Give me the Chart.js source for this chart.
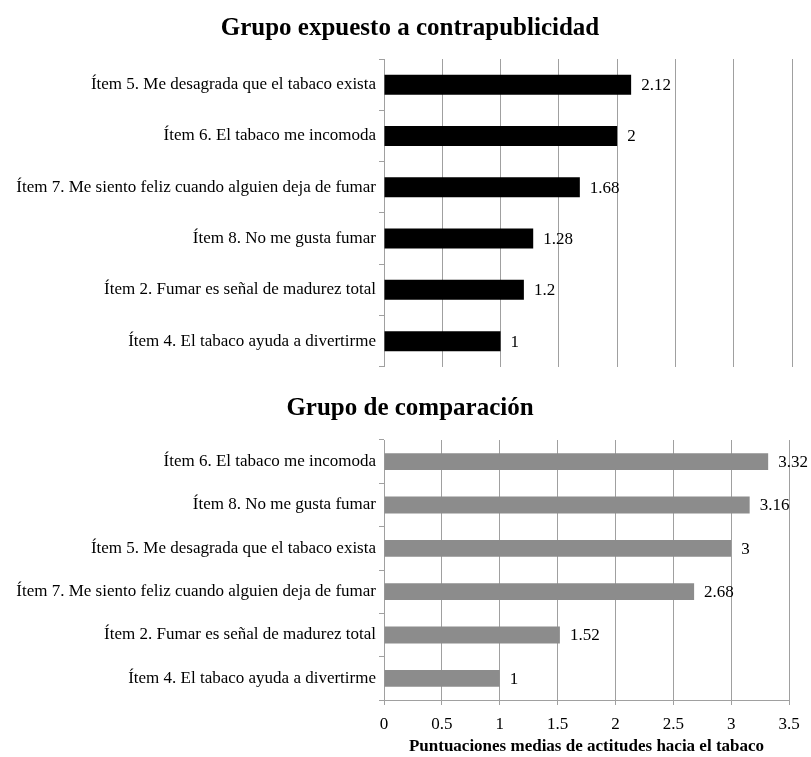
<!DOCTYPE html>
<html>
<head>
<meta charset="utf-8">
<script src="https://cdn.jsdelivr.net/npm/chart.js@4.4.1/dist/chart.umd.min.js"></script>
<style>
    body { margin: 0; background: #fff; }
    .wrap { position: absolute; left: 0; width: 811px; }
    #topWrap { top: 0; height: 380px; }
    #bottomWrap { top: 380px; height: 377px; }
    .title {
        position: absolute;
        left: 10px;
        width: 800px;
        text-align: center;
        font: bold 25px 'Liberation Serif', 'Times New Roman', serif;
        line-height: 30px;
        color: #000;
        z-index: 2;
    }
    #topTitle { top: 12px; }
    #bottomTitle { top: 392px; }
</style>
</head>
<body>
<div class="title" id="topTitle">Grupo expuesto a contrapublicidad</div>
<div class="title" id="bottomTitle">Grupo de comparación</div>
<div class="wrap" id="topWrap"><canvas id="topChart"></canvas></div>
<div class="wrap" id="bottomWrap"><canvas id="bottomChart"></canvas></div>
<script>
const topLabels = [
    "Ítem 5. Me desagrada que el tabaco exista",
    "Ítem 6. El tabaco me incomoda",
    "Ítem 7. Me siento feliz cuando alguien deja de fumar",
    "Ítem 8. No me gusta fumar",
    "Ítem 2. Fumar es señal de madurez total",
    "Ítem 4. El tabaco ayuda a divertirme",
];
const topValues = [2.12, 2, 1.68, 1.28, 1.2, 1];

const bottomLabels = [
    "Ítem 6. El tabaco me incomoda",
    "Ítem 8. No me gusta fumar",
    "Ítem 5. Me desagrada que el tabaco exista",
    "Ítem 7. Me siento feliz cuando alguien deja de fumar",
    "Ítem 2. Fumar es señal de madurez total",
    "Ítem 4. El tabaco ayuda a divertirme",
];
const bottomValues = [3.32, 3.16, 3, 2.68, 1.52, 1];

const xTicks = [0, 0.5, 1, 1.5, 2, 2.5, 3, 3.5];

const serif = "'Liberation Serif', 'Times New Roman', serif";
Chart.defaults.font.family = serif;
Chart.defaults.color = "#000";

// valores al final de cada barra
const valueLabels = {
    id: "valueLabels",
    afterDatasetsDraw(chart) {
        const ctx = chart.ctx;
        const meta = chart.getDatasetMeta(0);
        ctx.save();
        ctx.font = "17px " + serif;
        ctx.fillStyle = "#000";
        ctx.textBaseline = "middle";
        ctx.textAlign = "left";
        meta.data.forEach((bar, i) => {
            const v = chart.data.datasets[0].data[i];
            ctx.fillText(String(v), bar.x + 10, bar.y + 1);
        });
        ctx.restore();
    },
};

function makeChart(canvasId, labels, values, color, opts) {
    return new Chart(document.getElementById(canvasId), {
        type: "bar",
        data: {
            labels,
            datasets: [{
                data: values,
                backgroundColor: color,
                barPercentage: 0.39,
                categoryPercentage: 1,
            }],
        },
        options: {
            indexAxis: "y",
            responsive: true,
            maintainAspectRatio: false,
            animation: false,
            layout: { padding: { left: 0, right: opts.rightPad, top: opts.topPad, bottom: 0 } },
            plugins: {
                legend: { display: false },
                tooltip: { enabled: false },
                title: { display: false },
            },
            scales: {
                x: {
                    type: "linear",
                    min: 0,
                    max: 3.5,
                    afterBuildTicks: (scale) => {
                        scale.ticks = xTicks.map((v) => ({ value: v }));
                    },
                    afterFit: (scale) => { scale.height = opts.xHeight; },
                    grid: {
                        color: "#a0a0a0",
                        lineWidth: 1,
                        drawTicks: opts.showX,
                        tickLength: 5,
                    },
                    border: { display: opts.showX, color: "#a0a0a0" },
                    ticks: {
                        display: opts.showX,
                        font: { size: 17 },
                        padding: 9,
                        maxRotation: 0,
                        callback: (v) => String(v),
                    },
                    title: {
                        display: opts.showX,
                        text: "Puntuaciones medias de actitudes hacia el tabaco",
                        font: { size: 17, weight: "bold" },
                        color: "#000",
                        padding: { top: 0, bottom: 0 },
                    },
                },
                y: {
                    // eje fijo en x=384
                    afterFit: (scale) => { scale.width = 384; },
                    grid: {
                        drawOnChartArea: false,
                        color: "#a0a0a0",
                        tickLength: 5,
                    },
                    border: { color: "#a0a0a0" },
                    ticks: { font: { size: 17 }, padding: 3 },
                },
            },
        },
        plugins: [valueLabels],
    });
}

makeChart("topChart", topLabels, topValues, "#000000",
    { rightPad: 19, topPad: 59, xHeight: 9, showX: false });
makeChart("bottomChart", bottomLabels, bottomValues, "#8c8c8c",
    { rightPad: 22, topPad: 60, xHeight: 57, showX: true });
</script>
</body>
</html>
